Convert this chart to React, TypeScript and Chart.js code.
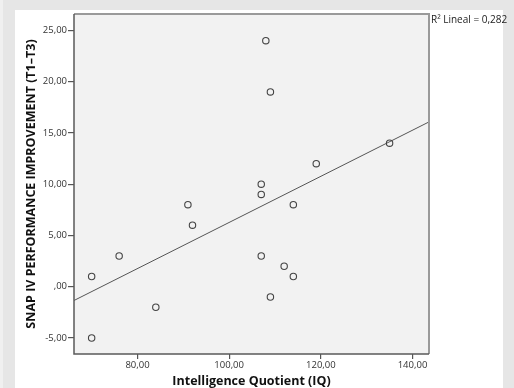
import React, { useEffect, useRef } from "react";
import { Chart, registerables } from "chart.js";

Chart.register(...registerables);

// Scatter data: IQ vs SNAP IV improvement (T1–T3)
const iq = [70, 70, 76, 84, 91, 92, 107, 107, 107, 108, 109, 109, 112, 114, 114, 119, 135];
const improvement = [1, -5, 3, -2, 8, 6, 10, 9, 3, 24, 19, -1, 2, 8, 1, 12, 14];

const xTicks = [80, 100, 120, 140];
const yTicks = [-5, 0, 5, 10, 15, 20, 25];

const xRange = [66.15, 143.6];
const yRange = [-6.56, 26.6];

const xTitle = "Intelligence Quotient (IQ)";
const yTitle = "SNAP IV PERFORMANCE IMPROVEMENT (T1–T3)";
const r2Label = "R² Lineal = 0,282";

const FONT = "'Open Sans', 'DejaVu Sans', sans-serif";

function fmt(v: number): string {
  const s = Math.abs(v).toFixed(2).replace(".", ",");
  const t = s.startsWith("0,") ? s.slice(1) : s;
  return (v < 0 ? "-" : "") + t;
}

function linearFit(xs: number[], ys: number[]) {
  const n = xs.length;
  const mx = xs.reduce((a, b) => a + b, 0) / n;
  const my = ys.reduce((a, b) => a + b, 0) / n;
  let sxy = 0;
  let sxx = 0;
  for (let i = 0; i < n; i++) {
    sxy += (xs[i] - mx) * (ys[i] - my);
    sxx += (xs[i] - mx) * (xs[i] - mx);
  }
  const b = sxy / sxx;
  return { a: my - b * mx, b };
}

const backgroundPlugin = {
  id: "spssBackground",
  beforeDraw(chart: any) {
    const { ctx, width, height, chartArea } = chart;
    ctx.save();
    ctx.fillStyle = "#e6e6e6";
    ctx.fillRect(0, 0, width, height);
    ctx.fillStyle = "#f0f0f0";
    ctx.fillRect(0, 0, 3, height);
    ctx.fillStyle = "#ffffff";
    ctx.fillRect(15, 10, 488, height - 10);
    ctx.fillStyle = "#f2f2f2";
    ctx.fillRect(chartArea.left, chartArea.top, chartArea.right - chartArea.left, chartArea.bottom - chartArea.top);
    ctx.restore();
  },
  afterDraw(chart: any) {
    const { ctx, chartArea } = chart;
    ctx.save();
    ctx.strokeStyle = "#9a9a9a";
    ctx.lineWidth = 2;
    ctx.beginPath();
    ctx.moveTo(chartArea.left, chartArea.top);
    ctx.lineTo(chartArea.right, chartArea.top);
    ctx.lineTo(chartArea.right, chartArea.bottom);
    ctx.stroke();
    ctx.strokeStyle = "#5a5a5a";
    ctx.lineWidth = 1.5;
    ctx.beginPath();
    ctx.moveTo(chartArea.left, chartArea.top);
    ctx.lineTo(chartArea.left, chartArea.bottom);
    ctx.lineTo(chartArea.right, chartArea.bottom);
    ctx.stroke();
    ctx.fillStyle = "#222";
    ctx.font = `10px ${FONT}`;
    ctx.textAlign = "left";
    ctx.textBaseline = "middle";
    ctx.fillText(r2Label, chartArea.right + 2, chartArea.top + 6);
    ctx.restore();
  },
};

export default function App() {
  const ref = useRef<HTMLCanvasElement | null>(null);

  useEffect(() => {
    document.body.style.margin = "0";
    const canvas = ref.current;
    if (!canvas) return;
    const { a, b } = linearFit(iq, improvement);
    const points = iq.map((x, i) => ({ x, y: improvement[i] }));
    const fitLine = xRange.map((x) => ({ x, y: a + b * x }));

    const chart = new Chart(canvas, {
      type: "scatter",
      data: {
        datasets: [
          {
            label: "data",
            data: points,
            pointRadius: 3.2,
            pointBorderWidth: 1.1,
            pointBorderColor: "#444",
            pointBackgroundColor: "rgba(0,0,0,0)",
            order: 0,
          },
          {
            label: "fit",
            data: fitLine,
            showLine: true,
            borderColor: "#555",
            borderWidth: 1,
            pointRadius: 0,
            order: 1,
          } as any,
        ],
      },
      options: {
        animation: false,
        responsive: false,
        devicePixelRatio: 1,
        layout: { padding: { left: 0, top: 14, right: 85, bottom: 0 } },
        plugins: { legend: { display: false }, tooltip: { enabled: false } },
        scales: {
          x: {
            type: "linear",
            min: xRange[0],
            max: xRange[1],
            afterBuildTicks: (s: any) => {
              s.ticks = xTicks.map((v) => ({ value: v }));
            },
            afterFit: (s: any) => {
              s.height = 34;
            },
            border: { display: false },
            grid: { drawOnChartArea: false, drawTicks: true, tickLength: 5, tickColor: "#555", lineWidth: 1.2 },
            ticks: {
              padding: 1,
              color: "#333",
              font: { family: FONT, size: 9.5 },
              callback: (v: any) => fmt(Number(v)),
              maxRotation: 0,
              autoSkip: false,
            },
            title: {
              display: true,
              text: xTitle,
              color: "#111",
              font: { family: FONT, size: 12.5, weight: "bold", lineHeight: 1 },
              padding: { top: 0, bottom: 0 },
            },
          },
          y: {
            type: "linear",
            min: yRange[0],
            max: yRange[1],
            afterBuildTicks: (s: any) => {
              s.ticks = yTicks.map((v) => ({ value: v }));
            },
            afterFit: (s: any) => {
              s.width = 74;
            },
            border: { display: false },
            grid: { drawOnChartArea: false, drawTicks: true, tickLength: 6, tickColor: "#555", lineWidth: 1.2 },
            ticks: {
              padding: 1,
              color: "#333",
              font: { family: FONT, size: 9.5 },
              callback: (v: any) => fmt(Number(v)),
              autoSkip: false,
            },
            title: {
              display: true,
              text: yTitle,
              color: "#111",
              font: { family: FONT, size: 12.5, weight: "bold", lineHeight: 1 },
              padding: { top: 25.5, bottom: 0 },
            },
          },
        },
      },
      plugins: [backgroundPlugin],
    });
    return () => chart.destroy();
  }, []);

  return (
    <div style={{ position: "fixed", left: 0, top: 0, width: 514, height: 388 }}>
      <canvas ref={ref} width={514} height={388} style={{ display: "block", width: 514, height: 388 }} />
    </div>
  );
}
